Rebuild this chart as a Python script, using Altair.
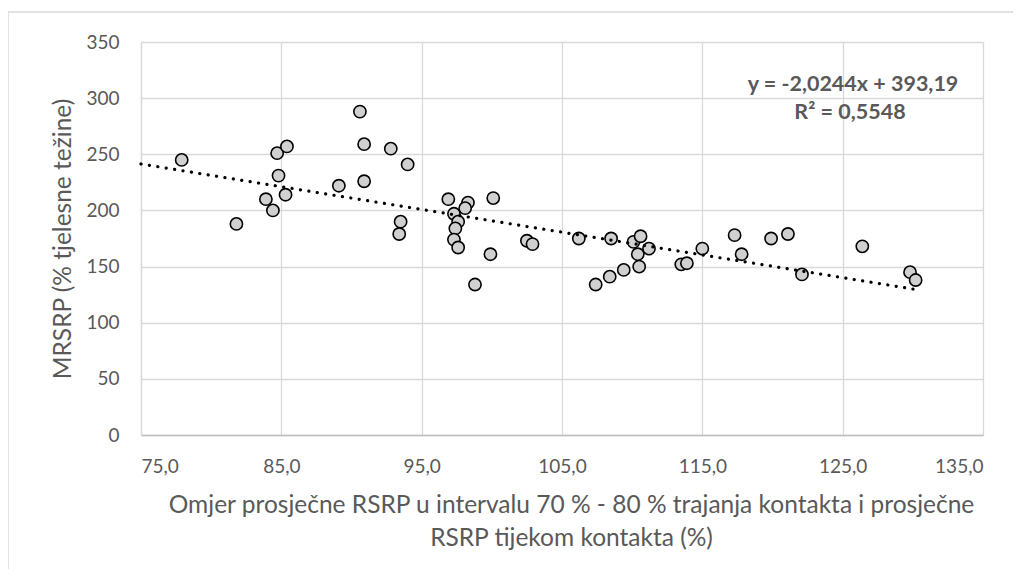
import altair as alt
import pandas as pd

x_vals = [77.9, 81.8, 84.7, 85.4, 84.8, 83.9, 84.4, 85.3, 89.1, 90.6,
          90.9, 90.9, 92.8, 94.0, 93.5, 93.4, 96.9, 98.3, 100.1, 97.3,
          98.1, 97.6, 97.4, 97.3, 97.6, 99.9, 98.8, 102.5, 102.9, 106.2,
          108.5, 107.4, 108.4, 109.4, 110.1, 110.6, 110.4, 110.5, 111.2, 113.5,
          113.9, 115.0, 117.3, 117.8, 119.9, 121.1, 122.1, 126.4, 129.8, 130.2]
y_vals = [245, 188, 251, 257, 231, 210, 200, 214, 222, 288,
          259, 226, 255, 241, 190, 179, 210, 207, 211, 197,
          202, 190, 184, 174, 167, 161, 134, 173, 170, 175,
          175, 134, 141, 147, 172, 177, 161, 150, 166, 152,
          153, 166, 178, 161, 175, 179, 143, 168, 145, 138]

slope = -2.0244
intercept = 393.19
trend_x = [75.0, 130.2]
trend_y = [slope * v + intercept for v in trend_x]
eq_lines = ["y = -2,0244x + 393,19", "R\u00b2 = 0,5548"]

pts = pd.DataFrame({"x": x_vals, "y": y_vals})
trend = pd.DataFrame({"x": trend_x, "y": trend_y})

FONT = "Lato"
GREY = "#595959"

xscale = alt.Scale(domain=[75, 135], nice=False, zero=False)
yscale = alt.Scale(domain=[0, 350], nice=False)

xaxis = alt.Axis(
    values=[75, 85, 95, 105, 115, 125, 135],
    labelExpr="replace(format(datum.value, '.1f'), '.', ',')",
    title=["Omjer prosječne RSRP u intervalu 70 % - 80 % trajanja kontakta i prosječne",
           "RSRP tijekom kontakta (%)"],
    titlePadding=17, labelPadding=22, ticks=False, titleX=430,
    grid=True, gridColor="#d9d9d9", gridWidth=1.3,
    domainColor="#bfbfbf", domainWidth=1.3,
    labelFont=FONT, labelFontSize=19, labelColor=GREY,
    titleFont=FONT, titleFontSize=24.5, titleColor=GREY, titleFontWeight="normal",
    titleLineHeight=33,
)
yaxis = alt.Axis(
    values=[0, 50, 100, 150, 200, 250, 300, 350],
    title="MRSRP (% tjelesne težine)", titlePadding=10, labelPadding=22, ticks=False,
    grid=True, gridColor="#d9d9d9", gridWidth=1.3,
    domainColor="#d9d9d9", domainWidth=1.3,
    labelFont=FONT, labelFontSize=19, labelColor=GREY,
    titleFont=FONT, titleFontSize=24.5, titleColor=GREY, titleFontWeight="normal",
)

points = alt.Chart(pts).mark_point(
    shape="circle", filled=True, fill="#d0d0d0", stroke="black",
    strokeWidth=1.6, size=150, opacity=1
).encode(
    x=alt.X("x:Q", scale=xscale, axis=xaxis),
    y=alt.Y("y:Q", scale=yscale, axis=yaxis),
)

line = alt.Chart(trend).mark_line(
    color="black", strokeWidth=3.2, strokeCap="round", strokeDash=[0.1, 8.4]
).encode(x=alt.X("x:Q", scale=xscale), y=alt.Y("y:Q", scale=yscale))

eq1 = alt.Chart(pd.DataFrame({"t": [eq_lines[0]]})).mark_text(
    font=FONT, fontSize=21.5, fontWeight="bold", color=GREY, align="center", baseline="middle"
).encode(text="t:N", x=alt.value(712), y=alt.value(43))
eq2 = alt.Chart(pd.DataFrame({"t": [eq_lines[1]]})).mark_text(
    font=FONT, fontSize=21.5, fontWeight="bold", color=GREY, align="center", baseline="middle"
).encode(text="t:N", x=alt.value(709), y=alt.value(71))

# outer chart-area border (top and left edges visible in the reference)
border_left = alt.Chart(pd.DataFrame({"a": [0]})).mark_rule(
    color="#d9d9d9", strokeWidth=1.5
).encode(x=alt.value(-133), y=alt.value(-30), y2=alt.value(540))
border_top = alt.Chart(pd.DataFrame({"a": [0]})).mark_rule(
    color="#d9d9d9", strokeWidth=1.5
).encode(x=alt.value(-133), x2=alt.value(880), y=alt.value(-30))

chart = alt.layer(border_left, border_top, points, line, eq1, eq2).properties(
    width=842, height=393,
    padding={"left": 133, "top": 34, "right": 30, "bottom": 134},
    autosize=alt.AutoSizeParams(type="none"),
).configure_view(stroke=None)

chart.save("out.html", embed_options={"renderer": "svg", "actions": False})
